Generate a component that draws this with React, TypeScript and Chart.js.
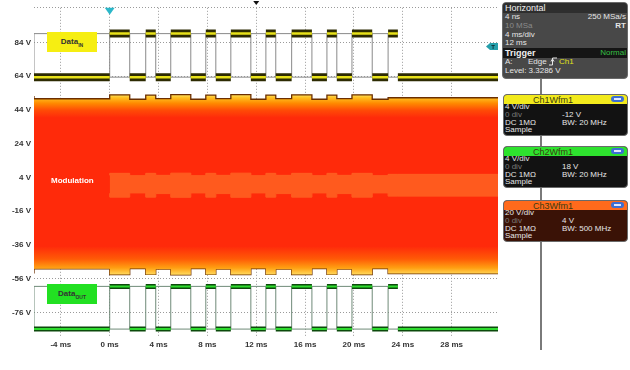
import React, { useEffect, useRef } from "react";
import { Chart, registerables } from "chart.js";

Chart.register(...registerables);

// ---- axes ----
const X_MIN = -6.2;
const X_MAX = 31.8;
const Y_MIN = -90;
const Y_MAX = 104.5;
const TIME_TICKS = [-4, 0, 4, 8, 12, 16, 20, 24, 28];
const VOLT_TICKS = [84, 64, 44, 24, 4, -16, -36, -56, -76];

// ---- digital data (edge times in ms, alternating rise / fall) ----
const BIT_EDGES = [0, 1.64, 2.95, 3.77, 5.0, 6.64, 7.87, 8.69, 9.92, 11.56, 12.79, 13.6, 14.9, 16.56, 17.79, 18.6, 19.84, 21.5, 22.8, 23.6];
const DATA_IN_LOW = 63.4;
const DATA_IN_HIGH = 89.2;
const DATA_OUT_LOW = -85.9;
const DATA_OUT_HIGH = -60.6;

// ---- modulation envelope (stepped, value holds from each time) ----
const MOD_TIMES = [-6.2, 0, 1.64, 2.95, 3.77, 5.0, 6.64, 7.87, 8.69, 9.92, 11.56, 12.79, 13.6, 14.9, 16.56, 17.79, 18.6, 19.84, 21.5, 22.8, 23.6, 31.8];
const MOD_UPPER = [52.2, 50.6, 52.9, 50.3, 52.8, 50.7, 53.0, 50.3, 52.8, 50.7, 53.0, 50.3, 52.8, 50.7, 52.9, 50.3, 52.8, 50.7, 52.9, 50.3, 51.2, 51.2];
const MOD_LOWER = [-53.0, -50.2, -53.6, -50.0, -53.5, -50.4, -53.7, -50.0, -53.5, -50.4, -53.6, -50.0, -53.5, -50.4, -53.6, -50.0, -53.5, -50.4, -53.6, -50.0, -53.0, -53.0];
const BAND_UPPER = [null, 5.2, 6.4, 5.0, 6.4, 5.2, 6.5, 5.0, 6.4, 5.2, 6.5, 5.0, 6.4, 5.2, 6.4, 5.0, 6.4, 5.2, 6.4, 5.0, 5.8, 5.8];
const BAND_LOWER = [null, -5.4, -7.7, -5.2, -7.7, -5.6, -7.8, -5.2, -7.7, -5.6, -7.8, -5.2, -7.7, -5.6, -7.7, -5.2, -7.7, -5.6, -7.7, -5.2, -7.1, -7.1];

const TRIGGER_TIME = 0;
const DELAY_TIME = 12;
const TRIGGER_LEVEL = 81.6;

const FONT = '"Liberation Sans", Arial, sans-serif';

function barPoints(low: number, high: number) {
  const bounds = [X_MIN, ...BIT_EDGES, X_MAX];
  const pts: { x: number; y: number | null }[] = [];
  for (let i = 0; i < bounds.length - 1; i++) {
    const v = i % 2 === 0 ? low : high;
    pts.push({ x: bounds[i], y: v }, { x: bounds[i + 1], y: v }, { x: bounds[i + 1], y: null });
  }
  return pts;
}

function edgePoints(low: number, high: number) {
  const pts = [{ x: X_MIN, y: low }];
  BIT_EDGES.forEach((t, i) => pts.push({ x: t, y: i % 2 === 0 ? high : low }));
  pts.push({ x: X_MAX, y: low });
  return pts;
}

function series(vals: (number | null)[]) {
  return MOD_TIMES.map((t, i) => ({ x: t, y: vals[i] }));
}

function envelopeFill(ctx: any) {
  const chart = ctx.chart;
  const ys = chart.scales && chart.scales.y;
  if (!chart.chartArea || !ys) return "#ff2a0a";
  const y0 = ys.getPixelForValue(53.3);
  const y1 = ys.getPixelForValue(-54);
  const g = chart.ctx.createLinearGradient(0, y0, 0, y1);
  g.addColorStop(0, "#ffe86a");
  g.addColorStop(0.02, "#ffbe20");
  g.addColorStop(0.05, "#ff8a00");
  g.addColorStop(0.09, "#ff4a06");
  g.addColorStop(0.13, "#ff2a0a");
  g.addColorStop(0.84, "#ff2a0a");
  g.addColorStop(0.91, "#ff5a06");
  g.addColorStop(0.96, "#ffa012");
  g.addColorStop(1, "#ffe066");
  return g;
}

const markerPlugin = {
  id: "scopeMarkers",
  afterDatasetsDraw(chart: any) {
    const { ctx, chartArea, scales } = chart;
    const x0 = scales.x.getPixelForValue(TRIGGER_TIME);
    ctx.save();
    ctx.fillStyle = "#2bb7c9";
    ctx.beginPath();
    ctx.moveTo(x0 - 5, chartArea.top);
    ctx.lineTo(x0 + 5, chartArea.top);
    ctx.lineTo(x0, chartArea.top + 7);
    ctx.closePath();
    ctx.fill();
    const xd = scales.x.getPixelForValue(DELAY_TIME);
    ctx.fillStyle = "#111";
    ctx.beginPath();
    ctx.moveTo(xd - 3, 1);
    ctx.lineTo(xd + 3, 1);
    ctx.lineTo(xd, 5);
    ctx.closePath();
    ctx.fill();
    const yt = scales.y.getPixelForValue(TRIGGER_LEVEL);
    const r = chartArea.right;
    ctx.fillStyle = "#259fab";
    ctx.beginPath();
    ctx.moveTo(r - 12, yt);
    ctx.lineTo(r - 8, yt - 3.5);
    ctx.lineTo(r, yt - 3.5);
    ctx.lineTo(r, yt + 3.5);
    ctx.lineTo(r - 8, yt + 3.5);
    ctx.closePath();
    ctx.fill();
    ctx.fillStyle = "#0a2a2e";
    ctx.font = `bold 6px ${FONT}`;
    ctx.textAlign = "center";
    ctx.textBaseline = "middle";
    ctx.fillText("T", r - 5, yt + 0.5);
    ctx.restore();
  },
};

function Txt(props: { x: number; y: number; children: any; color?: string; bold?: boolean; size?: number; right?: boolean }) {
  const size = props.size || 8;
  const style: any = {
    position: "absolute",
    top: props.y - 5,
    lineHeight: "10px",
    fontSize: size,
    color: props.color || "#e6e6e6",
    fontWeight: props.bold ? "bold" : "normal",
    whiteSpace: "nowrap",
  };
  if (props.right) style.right = 630 - props.x;
  else style.left = props.x;
  return <div style={style}>{props.children}</div>;
}

function Box(props: { x: number; y: number; w: number; h: number; bg: string; border?: string; radius?: number }) {
  return (
    <div
      style={{
        position: "absolute",
        left: props.x,
        top: props.y,
        width: props.w,
        height: props.h,
        background: props.bg,
        border: props.border ? `1px solid ${props.border}` : undefined,
        borderRadius: props.radius || 0,
        boxSizing: "border-box",
      }}
    />
  );
}

function Pill(props: { y: number }) {
  return (
    <div style={{ position: "absolute", left: 611, top: props.y, width: 13, height: 6, borderRadius: 3, background: "#3c6fd4" }}>
      <div style={{ position: "absolute", left: 3, top: 2, width: 7, height: 2, background: "#dfe8ff" }} />
    </div>
  );
}

function ChannelBox(props: { y: number; title: string; head: string; body: string; vdiv: string; offset: string; bw: string }) {
  const y = props.y;
  return (
    <>
      <Box x={503} y={y} w={125} h={42} bg={props.body} border="#6a6a6a" radius={4} />
      <div style={{ position: "absolute", left: 504, top: y + 1, width: 123, height: 9, background: props.head, borderRadius: "3px 3px 0 0" }} />
      <Txt x={533} y={y + 5.5} color="#3a3a10" size={9}>{props.title}</Txt>
      <Pill y={y + 2} />
      <Txt x={505} y={y + 13}>{props.vdiv}</Txt>
      <Txt x={505} y={y + 21} color="#7a7a7a">0 div</Txt>
      <Txt x={562} y={y + 21}>{props.offset}</Txt>
      <Txt x={505} y={y + 28.5}>DC 1MΩ</Txt>
      <Txt x={562} y={y + 28.5}>{props.bw}</Txt>
      <Txt x={505} y={y + 36}>Sample</Txt>
    </>
  );
}

export default function App() {
  const ref = useRef<HTMLCanvasElement>(null);

  useEffect(() => {
    const canvas = ref.current;
    if (!canvas) return;
    const tickFont = { family: FONT, size: 8, weight: "bold" as const };
    const chart = new Chart(canvas, {
      type: "line",
      data: {
        datasets: [
          { data: barPoints(DATA_IN_LOW, DATA_IN_HIGH), borderColor: "#e8e21a", borderWidth: 2.5, borderCapStyle: "butt", pointRadius: 0, spanGaps: false, fill: false } as any,
          { data: barPoints(DATA_IN_LOW, DATA_IN_HIGH), borderColor: "#2d2b02", borderWidth: 8, borderCapStyle: "butt", pointRadius: 0, spanGaps: false, fill: false } as any,
          { data: edgePoints(DATA_IN_LOW, DATA_IN_HIGH), borderColor: "#8a8a8a", borderWidth: 1, stepped: "after", pointRadius: 0, fill: false } as any,
          { data: barPoints(DATA_OUT_LOW, DATA_OUT_HIGH), borderColor: "#2edc2e", borderWidth: 2, borderCapStyle: "butt", pointRadius: 0, spanGaps: false, fill: false } as any,
          { data: barPoints(DATA_OUT_LOW, DATA_OUT_HIGH), borderColor: "#0c4a0c", borderWidth: 5, borderCapStyle: "butt", pointRadius: 0, spanGaps: false, fill: false } as any,
          { data: edgePoints(DATA_OUT_LOW, DATA_OUT_HIGH), borderColor: "#6f8a78", borderWidth: 1, stepped: "after", pointRadius: 0, fill: false } as any,
          { data: series(BAND_UPPER), borderColor: "#ff5e22", borderWidth: 1, stepped: "after", pointRadius: 0, backgroundColor: "#ff5a1e", fill: "+1" } as any,
          { data: series(BAND_LOWER), borderColor: "#ff5e22", borderWidth: 1, stepped: "after", pointRadius: 0, fill: false } as any,
          { data: series(MOD_UPPER), borderColor: "#6b2e00", borderWidth: 1.3, stepped: "after", pointRadius: 0, backgroundColor: envelopeFill, fill: "+1" } as any,
          { data: series(MOD_LOWER), borderColor: "#6b2e00", borderWidth: 1.3, stepped: "after", pointRadius: 0, fill: false } as any,
        ],
      },
      options: {
        responsive: false,
        animation: false,
        devicePixelRatio: 1,
        layout: { padding: { top: 5, right: 2, left: 0, bottom: 0 } },
        plugins: { legend: { display: false }, tooltip: { enabled: false } },
        elements: { line: { tension: 0 } },
        scales: {
          x: {
            type: "linear",
            min: X_MIN,
            max: X_MAX,
            afterBuildTicks: (s: any) => {
              s.ticks = TIME_TICKS.map((v) => ({ value: v }));
            },
            afterFit: (s: any) => {
              s.height = 34;
            },
            grid: { color: "#9a9a9a", drawTicks: false, lineWidth: 1 },
            border: { display: false, dash: [1, 2] },
            ticks: { callback: (v: any) => `${v} ms`, font: tickFont, color: "#333", padding: 4, maxRotation: 0, autoSkip: false },
          },
          y: {
            type: "linear",
            min: Y_MIN,
            max: Y_MAX,
            afterBuildTicks: (s: any) => {
              s.ticks = [Y_MAX, ...VOLT_TICKS].map((v) => ({ value: v }));
            },
            afterFit: (s: any) => {
              s.width = 34;
            },
            grid: { color: "#9a9a9a", drawTicks: false, lineWidth: 1 },
            border: { display: false, dash: [1, 2] },
            ticks: { callback: (v: any) => (v === Y_MAX ? "" : `${v} V`), font: tickFont, color: "#333", padding: 3, autoSkip: false },
          },
        },
      },
      plugins: [markerPlugin],
    } as any);
    return () => chart.destroy();
  }, []);

  return (
    <div style={{ position: "fixed", left: 0, top: 0, width: 630, height: 370, background: "#fff", overflow: "hidden", fontFamily: FONT }}>
      <canvas ref={ref} width={500} height={370} style={{ position: "absolute", left: 0, top: 0, width: 500, height: 370 }} />

      {/* annotation labels */}
      <div style={{ position: "absolute", left: 47, top: 32, width: 50, height: 20, background: "#f6ee12", display: "flex", alignItems: "center", justifyContent: "center", fontSize: 8, fontWeight: "bold", color: "#333" }}>
        <span>Data<sub style={{ fontSize: 5 }}>IN</sub></span>
      </div>
      <div style={{ position: "absolute", left: 47, top: 284, width: 50, height: 20, background: "#22e022", display: "flex", alignItems: "center", justifyContent: "center", fontSize: 8, fontWeight: "bold", color: "#333" }}>
        <span>Data<sub style={{ fontSize: 5 }}>OUT</sub></span>
      </div>
      <div style={{ position: "absolute", left: 51, top: 176, fontSize: 8, lineHeight: "10px", fontWeight: "bold", color: "#fff" }}>Modulation</div>

      {/* connectors */}
      <div style={{ position: "absolute", left: 540, top: 79, width: 2, height: 15, background: "#7a7a7a" }} />
      <div style={{ position: "absolute", left: 540, top: 136, width: 2, height: 10, background: "#7a7a7a" }} />
      <div style={{ position: "absolute", left: 540, top: 188, width: 2, height: 12, background: "#7a7a7a" }} />
      <div style={{ position: "absolute", left: 540, top: 242, width: 2, height: 108, background: "#7a7a7a" }} />

      {/* Horizontal / Trigger box */}
      <Box x={502} y={2} w={126} h={77} bg="#484848" border="#6a6a6a" radius={4} />
      <div style={{ position: "absolute", left: 503, top: 3, width: 124, height: 10, background: "#2e2e2e", borderRadius: "3px 3px 0 0" }} />
      <Txt x={505} y={8} size={9} color="#f0f0f0">Horizontal</Txt>
      <Txt x={505} y={17}>4 ns</Txt>
      <Txt x={626} y={17} right>250 MSa/s</Txt>
      <Txt x={505} y={26} color="#8a8a8a">10 MSa</Txt>
      <Txt x={626} y={26} right bold>RT</Txt>
      <Txt x={505} y={35}>4 ms/div</Txt>
      <Txt x={505} y={43}>12 ms</Txt>
      <div style={{ position: "absolute", left: 503, top: 48, width: 124, height: 10, background: "#151515" }} />
      <Txt x={505} y={53} size={9} bold color="#f0f0f0">Trigger</Txt>
      <Txt x={626} y={53} right color="#35c045">Normal</Txt>
      <Txt x={505} y={62}>A:</Txt>
      <Txt x={528} y={62}>Edge</Txt>
      <svg style={{ position: "absolute", left: 549, top: 57 }} width={9} height={9} viewBox="0 0 9 9">
        <path d="M0 8 H3.5 V1 H8" stroke="#e6e6e6" strokeWidth={1} fill="none" />
        <path d="M2 4.5 L3.5 2 L5 4.5" stroke="#e6e6e6" strokeWidth={1} fill="none" />
      </svg>
      <Txt x={559} y={62} color="#e4e21a">Ch1</Txt>
      <Txt x={505} y={71}>Level: 3.3286 V</Txt>

      <ChannelBox y={94} title="Ch1Wfm1" head="#f2ea1c" body="#121212" vdiv="4 V/div" offset="-12 V" bw="BW: 20 MHz" />
      <ChannelBox y={146} title="Ch2Wfm1" head="#2ee22e" body="#121212" vdiv="4 V/div" offset="18 V" bw="BW: 20 MHz" />
      <ChannelBox y={200} title="Ch3Wfm1" head="#ff6a1c" body="#3a1206" vdiv="20 V/div" offset="4 V" bw="BW: 500 MHz" />
    </div>
  );
}
